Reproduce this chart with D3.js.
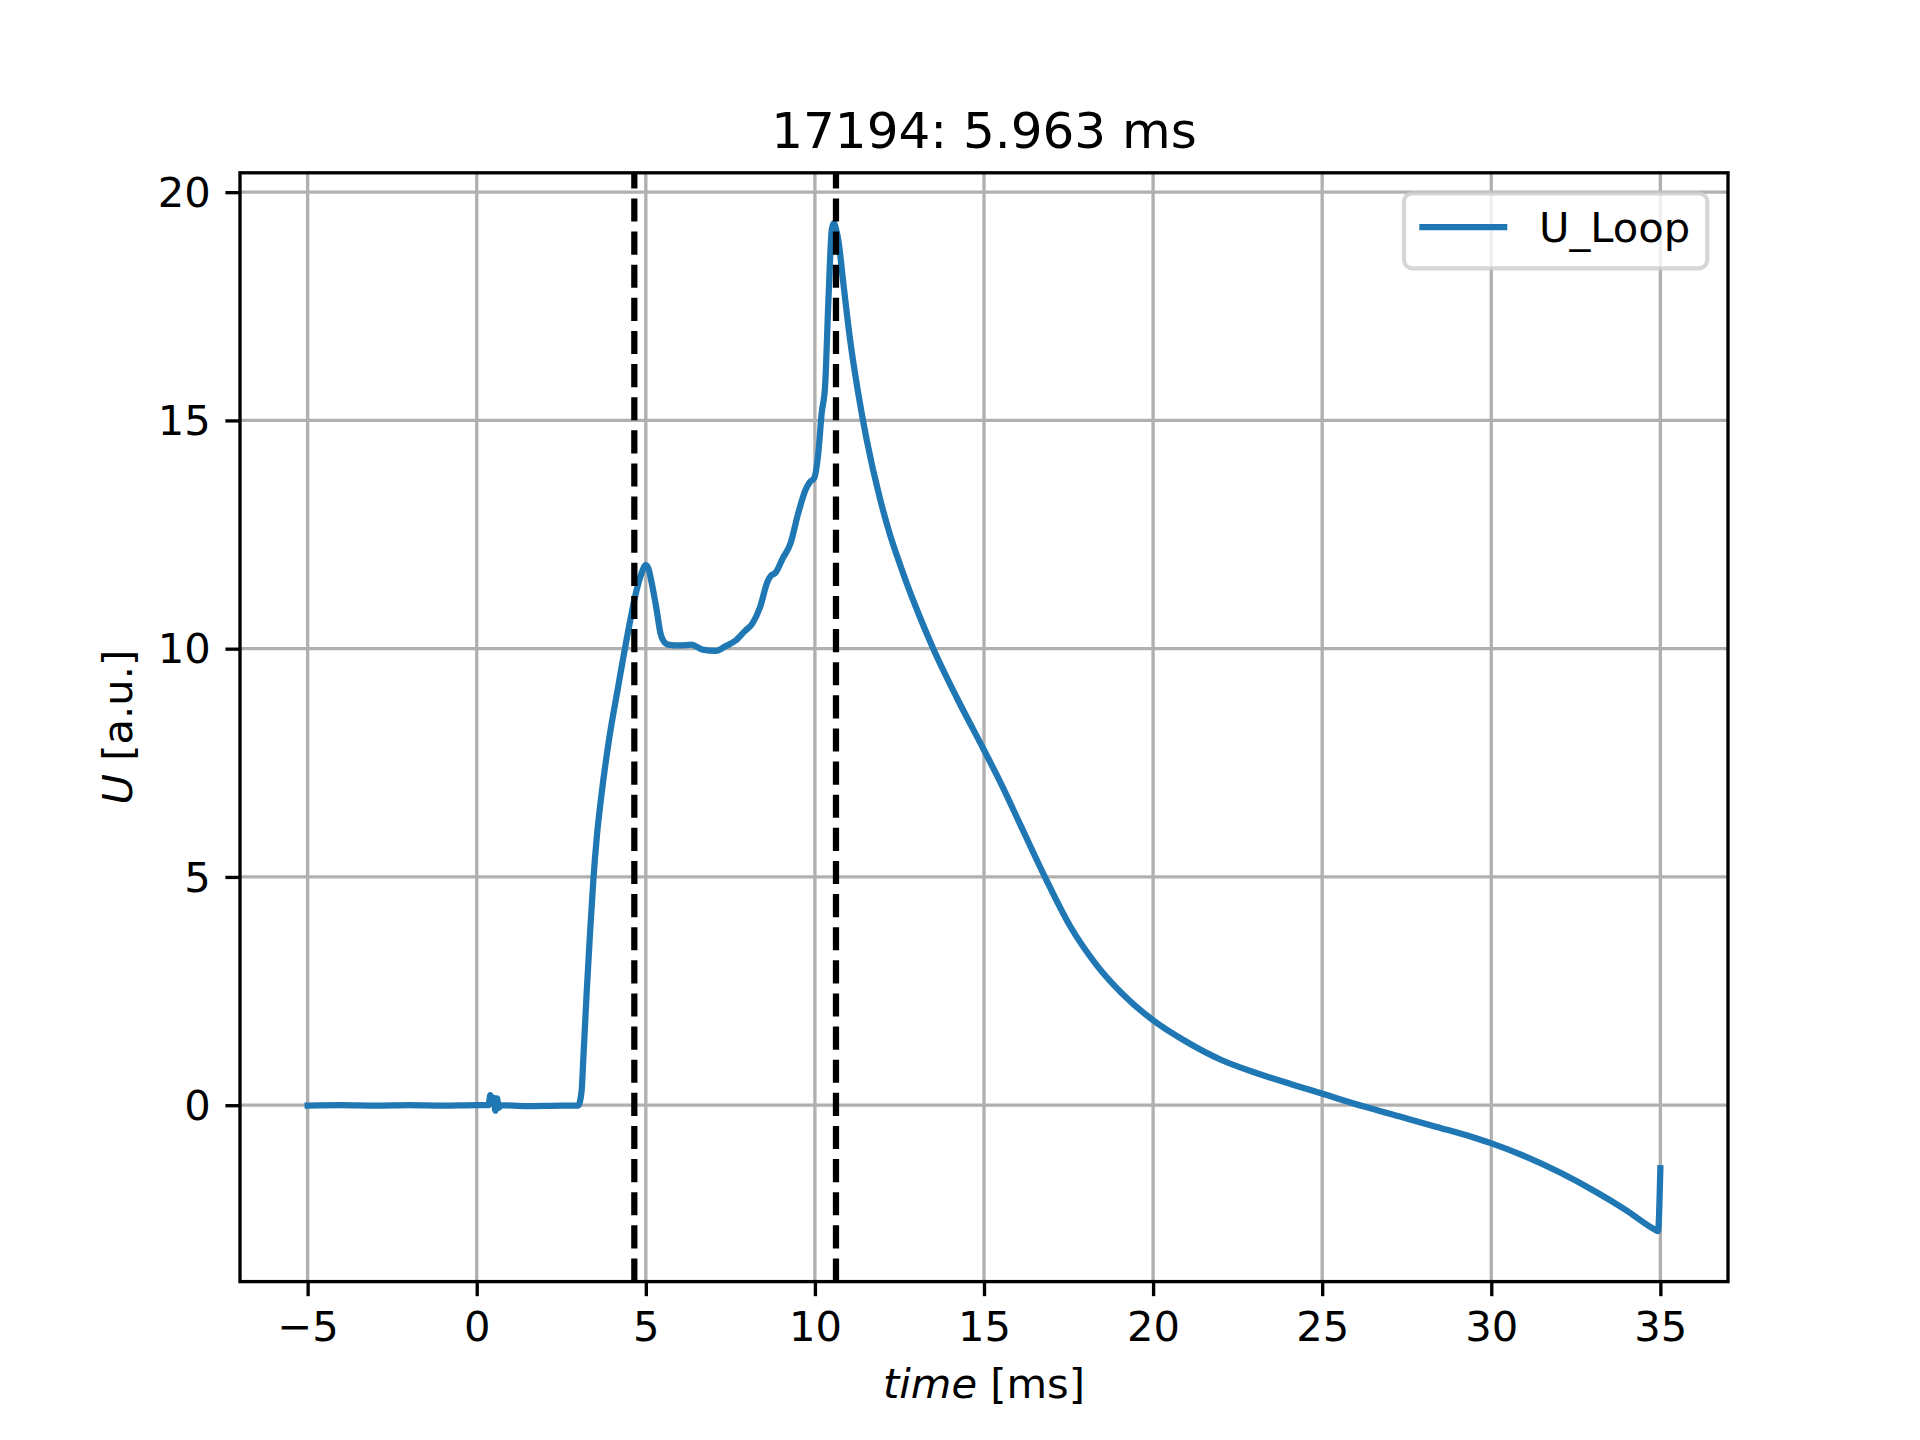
<!DOCTYPE html>
<html>
<head>
<meta charset="utf-8">
<script src="https://cdn.jsdelivr.net/npm/d3@7"></script>
<style>
  html, body { margin: 0; padding: 0; background: #fff; }
  svg { display: block; }
  text { font-family: "DejaVu Sans", sans-serif; fill: #000; }
</style>
</head>
<body>
<svg id="chart" width="1920" height="1440"></svg>
<script>
// ---- data ----
const title = "17194: 5.963 ms";
const seriesName = "U_Loop";
const time = [
  -5.0, -4.0, -3.0, -2.0, -1.0, 0.0, 0.35, 0.40, 0.45, 0.50, 0.55, 0.60, 0.65, 0.70,
  1.5, 2.5, 3.0, 3.1, 3.15, 3.25, 3.35, 3.45, 3.56, 3.68, 3.9, 4.19, 4.47, 4.7,
  4.85, 5.0, 5.08, 5.17, 5.32, 5.43, 5.52, 5.66, 6.0, 6.34, 6.68, 7.07,
  7.35, 7.64, 7.92, 8.15, 8.37, 8.6, 8.7, 8.83, 9.05, 9.28, 9.5, 9.73, 9.85, 9.98,
  10.1, 10.2, 10.3, 10.4, 10.5, 10.56, 10.62, 10.69, 10.84, 11.04, 11.28, 11.53, 11.92,
  12.22, 12.42, 12.71, 13.1, 13.5, 14.2, 15.0, 15.5, 16.07, 16.8, 17.54, 18.33, 19.12,
  20.0, 20.96, 22.02, 23.07, 24.13, 25.01, 26.24, 27.3, 28.36, 29.41, 29.99, 31.0,
  32.05, 33.1, 33.95, 34.85, 34.93, 35.0
];
const uLoop = [
  -0.01, 0.0, -0.01, 0.0, -0.01, 0.0, 0.0, 0.22, 0.12, 0.16, -0.12, 0.15, -0.06, 0.0,
  -0.02, -0.01, -0.01, 0.3, 0.99, 2.45, 3.77, 4.95, 5.95, 6.75, 7.95, 9.2, 10.35, 11.2,
  11.6, 11.83, 11.75, 11.45, 10.85, 10.35, 10.17, 10.09, 10.07, 10.09, 9.98, 9.95,
  10.05, 10.17, 10.38, 10.55, 10.89, 11.47, 11.6, 11.66, 11.98, 12.31, 12.95, 13.49, 13.65, 13.74,
  14.28, 15.16, 15.74, 17.64, 19.18, 19.32, 19.2, 18.96, 18.01, 16.77, 15.6, 14.58, 13.3,
  12.5, 12.05, 11.44, 10.7, 10.0, 8.92, 7.78, 7.05, 6.15, 5.0, 3.93, 3.07, 2.42,
  1.86, 1.40, 0.99, 0.70, 0.45, 0.25, -0.03, -0.25, -0.47, -0.69, -0.83, -1.12,
  -1.48, -1.9, -2.28, -2.73, -2.76, -1.38
];
const markerTimes = [4.66, 10.623];
const xTicks = [-5, 0, 5, 10, 15, 20, 25, 30, 35];
const yTicks = [0, 5, 10, 15, 20];

(function () {
// ---- layout (matplotlib defaults at 300 dpi) ----
const W = 1920, H = 1440;
const pt = 300 / 72;
const mLeft = 0.125 * W, mRight = 0.9 * W, mTop = (1 - 0.88) * H, mBottom = (1 - 0.11) * H;
const fs = 10 * pt;

const svg = d3.select("#chart");

const data = time.map((t, i) => ({ t, u: uLoop[i] }));

function padded(ext) {
  const d = ext[1] - ext[0];
  return [ext[0] - 0.05 * d, ext[1] + 0.05 * d];
}
const x = d3.scaleLinear().domain(padded(d3.extent(time))).range([mLeft, mRight]);
const y = d3.scaleLinear().domain(padded(d3.extent(uLoop))).range([mBottom, mTop]);

const clipId = "plotclip";
svg.append("defs").append("clipPath").attr("id", clipId)
  .append("rect").attr("x", mLeft).attr("y", mTop).attr("width", mRight - mLeft).attr("height", mBottom - mTop);

// grid
const grid = svg.append("g");
grid.selectAll(".gx").data(xTicks).join("line")
  .attr("x1", d => x(d)).attr("x2", d => x(d)).attr("y1", mTop).attr("y2", mBottom)
  .attr("stroke", "#b0b0b0").attr("stroke-width", 0.8 * pt);
grid.selectAll(".gy").data(yTicks).join("line")
  .attr("x1", mLeft).attr("x2", mRight).attr("y1", d => y(d)).attr("y2", d => y(d))
  .attr("stroke", "#b0b0b0").attr("stroke-width", 0.8 * pt);

// series
const line = d3.line().x(d => x(d.t)).y(d => y(d.u)).curve(d3.curveMonotoneX);
const plot = svg.append("g").attr("clip-path", `url(#${clipId})`);
plot.append("path").datum(data)
  .attr("d", line)
  .attr("fill", "none").attr("stroke", "#1f77b4")
  .attr("stroke-width", 1.5 * pt).attr("stroke-linejoin", "round").attr("stroke-linecap", "square");

// vertical dashed markers
plot.selectAll(".vl").data(markerTimes).join("line")
  .attr("x1", d => x(d)).attr("x2", d => x(d)).attr("y1", mBottom).attr("y2", mTop)
  .attr("stroke", "#000").attr("stroke-width", 1.5 * pt)
  .attr("stroke-dasharray", `${3.7 * 1.5 * pt} ${1.6 * 1.5 * pt}`);

// axes via d3
const tickLen = 3.5 * pt, tickPad = 3.5 * pt;
const fmt = d => (d < 0 ? "\u2212" + Math.abs(d) : String(d));
const xAxis = svg.append("g").attr("transform", `translate(0,${mBottom})`)
  .call(d3.axisBottom(x).tickValues(xTicks).tickFormat(fmt).tickSize(tickLen).tickPadding(tickPad));
const yAxis = svg.append("g").attr("transform", `translate(${mLeft},0)`)
  .call(d3.axisLeft(y).tickValues(yTicks).tickFormat(fmt).tickSize(tickLen).tickPadding(tickPad));
[xAxis, yAxis].forEach(a => {
  a.select(".domain").remove();
  a.selectAll(".tick line").attr("stroke", "#000").attr("stroke-width", 0.8 * pt);
  a.selectAll(".tick text").attr("font-family", "DejaVu Sans").attr("font-size", fs).attr("fill", "#000");
});
xAxis.selectAll(".tick text").attr("dy", null).attr("y", tickLen + tickPad + 30.7);
yAxis.selectAll(".tick text").attr("dy", "0.34em");

// spines
svg.append("rect").attr("x", mLeft).attr("y", mTop).attr("width", mRight - mLeft).attr("height", mBottom - mTop)
  .attr("fill", "none").attr("stroke", "#000").attr("stroke-width", 0.8 * pt).attr("stroke-linecap", "square");

// labels
const xl = svg.append("text").attr("x", (mLeft + mRight) / 2).attr("y", 1398)
  .attr("text-anchor", "middle").attr("font-size", fs);
xl.append("tspan").attr("font-style", "italic").text("time");
xl.append("tspan").text(" [ms]");

const yl = svg.append("text").attr("transform", `translate(132,${(mTop + mBottom) / 2}) rotate(-90)`)
  .attr("text-anchor", "middle").attr("font-size", fs);
yl.append("tspan").attr("font-style", "italic").text("U");
yl.append("tspan").text(" [a.u.]");

svg.append("text").attr("x", (mLeft + mRight) / 2).attr("y", mTop - 6 * pt)
  .attr("text-anchor", "middle").attr("font-size", 12 * pt).text(title);

// legend
const lg = svg.append("g");
lg.append("rect").attr("x", 1404).attr("y", 193.3).attr("width", 303.3).attr("height", 75)
  .attr("rx", 8.3).attr("ry", 8.3)
  .attr("fill", "#fff").attr("fill-opacity", 0.8)
  .attr("stroke", "#cccccc").attr("stroke-opacity", 0.8).attr("stroke-width", 1 * pt);
lg.append("line").attr("x1", 1419.3).attr("x2", 1507.3).attr("y1", 227).attr("y2", 227)
  .attr("stroke", "#1f77b4").attr("stroke-width", 1.5 * pt);
lg.append("text").attr("x", 1539).attr("y", 241.7).attr("font-size", fs).text(seriesName);
})();
</script>
</body>
</html>
